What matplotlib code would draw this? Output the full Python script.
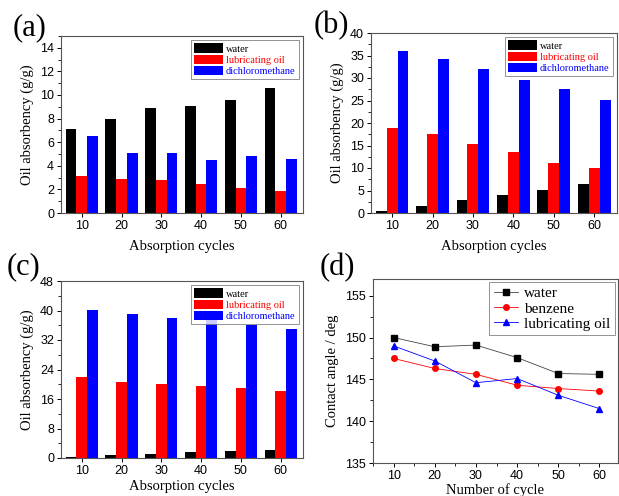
import matplotlib

matplotlib.use("Agg")
import matplotlib.pyplot as plt
from matplotlib.ticker import MultipleLocator
import numpy as np

cycles = [10, 20, 30, 40, 50, 60]
series_names = ["water", "lubricating oil", "dichloromethane"]
bar_colors = ["#000000", "#ff0000", "#0000ff"]

# panel (a)
a_water = [7.1, 8.0, 8.9, 9.1, 9.6, 10.6]
a_lube = [3.1, 2.9, 2.8, 2.5, 2.1, 1.9]
a_dcm = [6.5, 5.1, 5.1, 4.5, 4.8, 4.6]

# panel (b)
b_water = [0.5, 1.6, 2.8, 4.1, 5.2, 6.4]
b_lube = [19.0, 17.6, 15.4, 13.6, 11.1, 10.0]
b_dcm = [36.1, 34.2, 31.9, 29.6, 27.6, 25.2]

# panel (c)
c_water = [0.3, 0.7, 1.1, 1.5, 1.9, 2.1]
c_lube = [22.0, 20.6, 20.1, 19.6, 19.1, 18.3]
c_dcm = [40.1, 39.0, 38.0, 37.3, 36.1, 35.0]

# panel (d) contact angle
d_water = [150.0, 148.9, 149.1, 147.6, 145.7, 145.6]
d_benzene = [147.5, 146.3, 145.6, 144.3, 143.9, 143.6]
d_lube = [149.0, 147.2, 144.6, 145.1, 143.1, 141.5]
d_names = ["water", "benzene", "lubricating oil"]

SERIF = "Liberation Serif"
SANS = "Liberation Sans"
W, H = 619, 496

fig = plt.figure(figsize=(W / 100, H / 100), dpi=100)


def px_axes(left, right, top, bottom):
    return fig.add_axes([left / W, 1 - bottom / H, (right - left) / W, (bottom - top) / H])


def style_axes(ax):
    for sp in ax.spines.values():
        sp.set_color("#555555")
        sp.set_linewidth(0.8)
    ax.tick_params(axis="both", direction="out", length=3, width=0.7, labelsize=9, pad=2)
    ax.tick_params(axis="y", which="minor", direction="out", length=2, width=0.6)
    for lab in ax.get_xticklabels() + ax.get_yticklabels():
        lab.set_fontfamily(SANS)


def panel_letter(ax, letter, x, y):
    ax.text(x, y, letter, transform=ax.transAxes, fontfamily=SERIF, fontsize=22,
            ha="center", va="center")


def bar_panel(ax, data, ymax, ystep, xpad):
    idx = np.arange(1, len(cycles) + 1)
    w = 0.27
    for k, (vals, col) in enumerate(zip(data, bar_colors)):
        ax.bar(idx + (k - 1) * w, vals, width=w, color=col, label=series_names[k], zorder=2)
    ax.set_xlim(0.48, 6.56)
    ax.set_ylim(0, ymax)
    ax.set_xticks(idx)
    ax.set_xticklabels([str(c) for c in cycles])
    ax.yaxis.set_major_locator(MultipleLocator(ystep))
    ax.yaxis.set_minor_locator(MultipleLocator(ystep / 2))
    ax.tick_params(axis="x", length=0)
    style_axes(ax)
    ax.set_xlabel("Absorption cycles", fontfamily=SERIF, fontsize=10.5, labelpad=xpad)
    ax.set_ylabel("Oil absorbency (g/g)", fontfamily=SERIF, fontsize=10.5, labelpad=4)
    leg = ax.legend(loc="upper right", prop={"family": SERIF, "size": 7.5}, frameon=True,
                    fancybox=False, edgecolor="#777777", handlelength=2.8, handleheight=1.0,
                    handletextpad=0.3, borderpad=0.3, labelspacing=0.1, borderaxespad=0.4)
    leg.get_frame().set_linewidth(0.7)
    for t, col in zip(leg.get_texts(), bar_colors):
        t.set_color(col)


ax_a = px_axes(61, 303, 36, 213)
bar_panel(ax_a, [a_water, a_lube, a_dcm], 15, 2, 6)
panel_letter(ax_a, "(a)", -0.13, 1.045)

ax_b = px_axes(371, 617, 33, 213)
bar_panel(ax_b, [b_water, b_lube, b_dcm], 40, 5, 6)
panel_letter(ax_b, "(b)", -0.16, 1.04)

ax_c = px_axes(61, 303, 281, 458)
bar_panel(ax_c, [c_water, c_lube, c_dcm], 48, 8, 2)
panel_letter(ax_c, "(c)", -0.155, 1.08)

ax_d = px_axes(373, 618, 279, 463)
line_colors = ["#000000", "#ff0000", "#0000ff"]
markers = ["s", "o", "^"]
for vals, col, mk, nm in zip([d_water, d_benzene, d_lube], line_colors, markers, d_names):
    ax_d.plot(cycles, vals, color=col, marker=mk, markersize=4, linewidth=0.6, label=nm)
# water line drawn grayish like the original
ax_d.lines[0].set_color("#444444")
ax_d.lines[0].set_markerfacecolor("#000000")
ax_d.lines[0].set_markeredgecolor("#000000")
ax_d.set_xlim(5, 64.5)
ax_d.set_ylim(135, 157)
ax_d.xaxis.set_major_locator(MultipleLocator(10))
ax_d.xaxis.set_minor_locator(MultipleLocator(5))
ax_d.yaxis.set_major_locator(MultipleLocator(5))
ax_d.yaxis.set_minor_locator(MultipleLocator(2.5))
style_axes(ax_d)
ax_d.tick_params(axis="x", which="minor", direction="out", length=2, width=0.6)
ax_d.set_xlabel("Number of cycle", fontfamily=SERIF, fontsize=10.5, labelpad=1)
ax_d.set_ylabel("Contact angle / deg", fontfamily=SERIF, fontsize=10.5, labelpad=4)
leg = ax_d.legend(loc="upper right", prop={"family": SERIF, "size": 11}, frameon=True,
                  fancybox=False, edgecolor="#777777", handlelength=1.6, handletextpad=0.4,
                  borderpad=0.3, labelspacing=0.1, borderaxespad=0.2)
leg.get_frame().set_linewidth(0.7)
panel_letter(ax_d, "(d)", -0.147, 1.06)

fig.savefig("out.png", dpi=100)
